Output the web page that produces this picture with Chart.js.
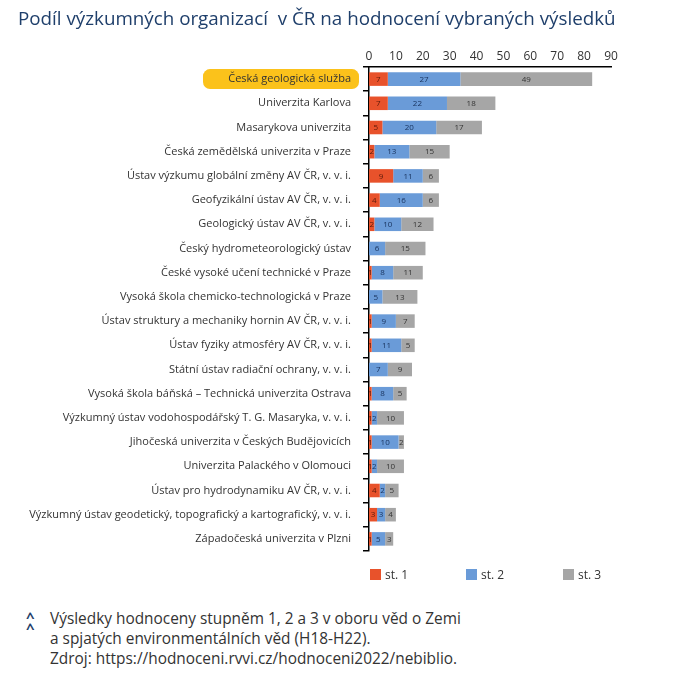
<!DOCTYPE html>
<html lang="cs">
<head>
<meta charset="utf-8">
<script src="https://cdn.jsdelivr.net/npm/chart.js@4"></script>
<style>
    body { margin: 0; background: #fff; }
    #wrap { position: relative; width: 680px; height: 680px; font-family: "Open Sans", "Noto Sans", sans-serif; }
    #title { position: absolute; left: 18px; top: 5px; font-size: 18.8px; color: #1f3f6b; white-space: nowrap; }
    #chart { position: absolute; left: 0; top: 0; }
    #legend { position: absolute; top: 566px; left: 0; width: 680px; font-size: 12px; color: #333; }
    #legend span.item { position: absolute; white-space: nowrap; }
    #legend i { display: inline-block; width: 11px; height: 11px; vertical-align: -1px; margin-right: 4px; }
    #note { position: absolute; left: 50px; top: 609px; font-size: 15.4px; line-height: 20px; color: #333; white-space: nowrap; }
    #caret { position: absolute; left: 26px; top: 612px; font-size: 15px; line-height: 11px; color: #1f3f6b; font-weight: bold; }
</style>
</head>
<body>
<div id="wrap">
    <canvas id="chart" width="680" height="600"></canvas>
    <div id="title">Podíl výzkumných organizací&nbsp; v ČR na hodnocení vybraných výsledků</div>
    <div id="legend">
        <span class="item" style="left:370px"><i style="background:#e8522b"></i>st. 1</span>
        <span class="item" style="left:466px"><i style="background:#6a9bd8"></i>st. 2</span>
        <span class="item" style="left:563px"><i style="background:#a6a6a6"></i>st. 3</span>
    </div>
    <div id="caret">^<br>^</div>
    <div id="note">Výsledky hodnoceny stupněm 1, 2 a 3 v oboru věd o Zemi<br>a spjatých environmentálních věd (H18-H22).<br>Zdroj: https://hodnoceni.rvvi.cz/hodnoceni2022/nebiblio.</div>
</div>
<script>
// Organizations (top to bottom)
const organizations = [
    "Česká geologická služba",
    "Univerzita Karlova",
    "Masarykova univerzita",
    "Česká zemědělská univerzita v Praze",
    "Ústav výzkumu globální změny AV ČR, v. v. i.",
    "Geofyzikální ústav AV ČR, v. v. i.",
    "Geologický ústav AV ČR, v. v. i.",
    "Český hydrometeorologický ústav",
    "České vysoké učení technické v Praze",
    "Vysoká škola chemicko-technologická v Praze",
    "Ústav struktury a mechaniky hornin AV ČR, v. v. i.",
    "Ústav fyziky atmosféry AV ČR, v. v. i.",
    "Státní ústav radiační ochrany, v. v. i.",
    "Vysoká škola báňská – Technická univerzita Ostrava",
    "Výzkumný ústav vodohospodářský T. G. Masaryka, v. v. i.",
    "Jihočeská univerzita v Českých Budějovicích",
    "Univerzita Palackého v Olomouci",
    "Ústav pro hydrodynamiku AV ČR, v. v. i.",
    "Výzkumný ústav geodetický, topografický a kartografický, v. v. i.",
    "Západočeská univerzita v Plzni"
];

// Number of results per grade
const grade1 = [7, 7, 5, 2, 9, 4, 2, 0, 1, 0, 1, 1, 0, 1, 1, 1, 1, 4, 3, 1];
const grade2 = [27, 22, 20, 13, 11, 16, 10, 6, 8, 5, 9, 11, 7, 8, 2, 10, 2, 2, 3, 5];
const grade3 = [49, 18, 17, 15, 6, 6, 12, 15, 11, 13, 7, 5, 9, 5, 10, 2, 10, 5, 4, 3];

const xTicks = [0, 10, 20, 30, 40, 50, 60, 70, 80, 90];

const labelColors = ["#5a1a0a", "#1a3560", "#333333"];

// Values written inside the bar segments
const segmentLabels = {
    id: "segmentLabels",
    afterDatasetsDraw(chart) {
        const ctx = chart.ctx;
        ctx.save();
        ctx.font = "8px 'Open Sans', sans-serif";
        ctx.textAlign = "center";
        ctx.textBaseline = "middle";
        chart.data.datasets.forEach((ds, di) => {
            const meta = chart.getDatasetMeta(di);
            meta.data.forEach((bar, i) => {
                const v = ds.data[i];
                if (!v) return;
                const x = (bar.base + bar.x) / 2;
                ctx.fillStyle = labelColors[di];
                ctx.fillText(v, x, bar.y + 0.5);
            });
        });
        ctx.restore();
    }
};

// Yellow box behind the first organization label
const highlightFirst = {
    id: "highlightFirst",
    beforeDraw(chart) {
        const y = chart.scales.y;
        const ctx = chart.ctx;
        const cy = y.getPixelForTick(0);
        ctx.save();
        ctx.fillStyle = "#fbc21b";
        ctx.beginPath();
        ctx.roundRect(203, cy - 10, 156, 20, 7);
        ctx.fill();
        ctx.restore();
    }
};

const ctx = document.getElementById("chart").getContext("2d");
new Chart(ctx, {
    type: "bar",
    data: {
        labels: organizations,
        datasets: [
            { label: "st. 1", data: grade1, backgroundColor: "#e8522b" },
            { label: "st. 2", data: grade2, backgroundColor: "#6a9bd8" },
            { label: "st. 3", data: grade3, backgroundColor: "#a6a6a6" }
        ]
    },
    options: {
        indexAxis: "y",
        responsive: false,
        animation: false,
        layout: { padding: { top: 40, right: 69, bottom: 49, left: 0 } },
        datasets: { bar: { categoryPercentage: 0.56, barPercentage: 1 } },
        plugins: {
            legend: { display: false },
            tooltip: { enabled: false }
        },
        scales: {
            x: {
                position: "top",
                stacked: true,
                min: 0,
                max: 90,
                afterBuildTicks(scale) {
                    scale.ticks = xTicks.map(v => ({ value: v }));
                },
                afterFit(scale) { scale.height = 27; },
                grid: { display: false },
                border: { display: true, color: "#000", width: 1.5 },
                ticks: { color: "#333", font: { family: "'Open Sans', sans-serif", size: 12 }, padding: -5 }
            },
            y: {
                stacked: true,
                afterFit(scale) { scale.width = 369; },
                grid: {
                    display: true,
                    drawOnChartArea: false,
                    drawTicks: true,
                    tickLength: 6,
                    offset: true,
                    color: "#000",
                    lineWidth: 1.5
                },
                border: { display: true, color: "#000", width: 1.5 },
                ticks: {
                    color: "#333",
                    font: { family: "'Open Sans', sans-serif", size: 11 },
                    padding: 12,
                    autoSkip: false
                }
            }
        }
    },
    plugins: [highlightFirst, segmentLabels]
});
</script>
</body>
</html>
